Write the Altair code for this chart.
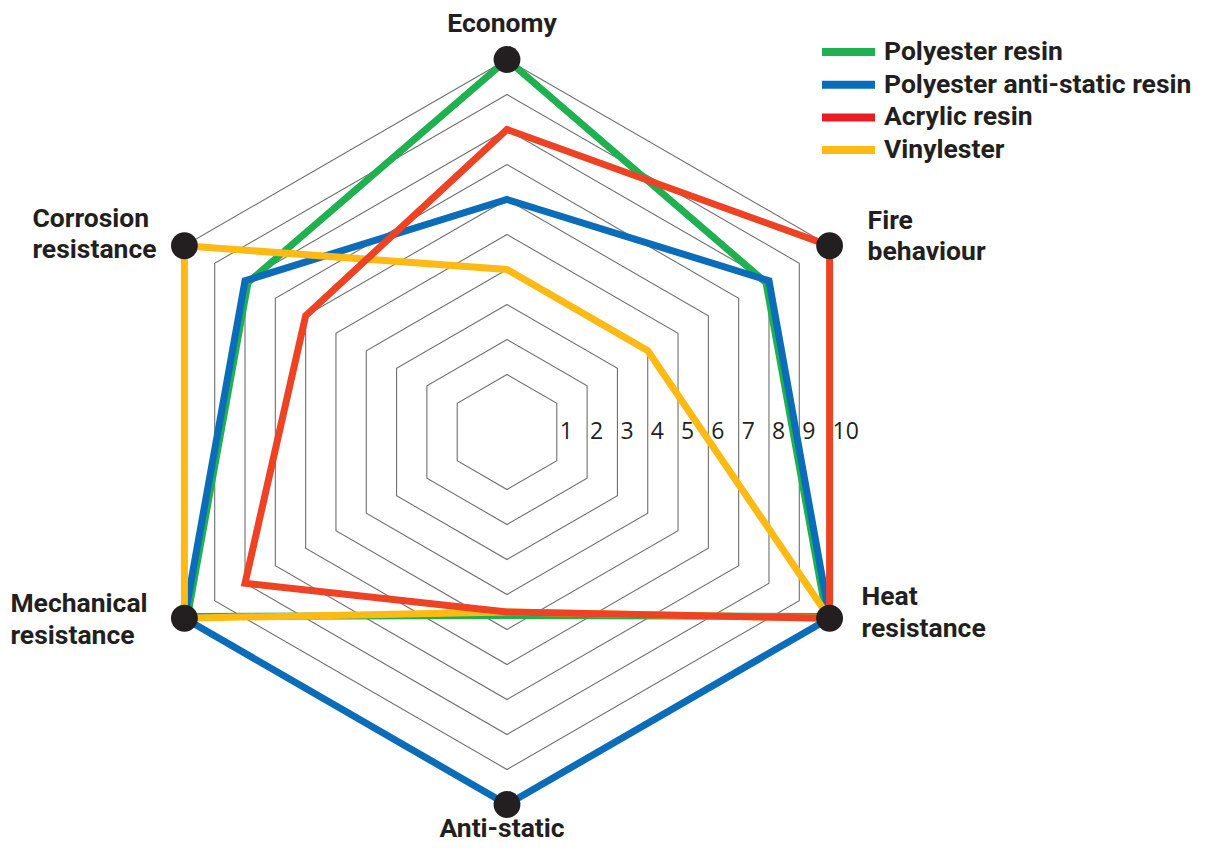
import math
import altair as alt
import pandas as pd

# ---------------- data ----------------
axis_names = ["Economy", "Fire behaviour", "Heat resistance", "Anti-static",
              "Mechanical resistance", "Corrosion resistance"]
axis_labels = ["Economy", "Fire\nbehaviour", "Heat\nresistance", "Anti-static",
               "Mechanical\nresistance", "Corrosion\nresistance"]
series_names = ["Polyester resin", "Polyester anti-static resin", "Acrylic resin", "Vinylester"]
polyester_resin = [10, 7.9, 9.9, 4.6, 9.9, 7.9]
polyester_antistatic = [6, 8, 10, 10, 10, 8]
acrylic_resin = [8, 10, 10, 4.5, 8, 6]
vinylester = [4, 4, 10, 4.5, 10, 10]
grid_levels = [1, 2, 3, 4, 5, 6, 7, 8, 9, 10]
tick_labels = ["1", "2", "3", "4", "5", "6", "7", "8", "9", "10"]
max_value = 10

series_values = [polyester_resin, polyester_antistatic, acrylic_resin, vinylester]

# ---------------- layout / style ----------------
W, H = 1196, 834
CX, CY = 499, 424          # centre of the radar in view pixels
PX = 35.0                  # pixels per value unit
OFF = 0.643                # radial offset of value 0
XDOM = [-CX / PX, (W - CX) / PX]
YDOM = [-(H - CY) / PX, CY / PX]

line_colors = ["#1fb04f", "#0b6db9", "#ee4224", "#fdba14"]
legend_colors = ["#1fb04f", "#0b6db9", "#ec1c24", "#fdba14"]
z_order = [0, 1, 3, 2]
TXT = "#231f20"
FONT = "Roboto"
BOLD_SIZE = 26.5
LINE_H = 31.5

xs = alt.Scale(domain=XDOM, nice=False, zero=False)
ys = alt.Scale(domain=YDOM, nice=False, zero=False)
X = lambda f: alt.X(f, type="quantitative", scale=xs, axis=None)
Y = lambda f: alt.Y(f, type="quantitative", scale=ys, axis=None)

N = len(axis_names)
calc_x = f"(datum.value + {OFF}) * sin(datum.k * PI / 3)"
calc_y = f"(datum.value + {OFF}) * cos(datum.k * PI / 3)"

# grid hexagons
grid_rows = []
for lv in grid_levels:
    for j in range(N + 1):
        grid_rows.append({"level": lv, "k": j % N, "o": j, "value": lv})
grid = alt.Chart(pd.DataFrame(grid_rows)).transform_calculate(
    x=calc_x, y=calc_y
).mark_line(strokeWidth=1.1, color="#6f6f6f").encode(
    x=X("x"), y=Y("y"), detail="level:N", order="o:Q"
)

# tick labels
tick_df = pd.DataFrame({"value": grid_levels, "label": tick_labels})
ticks = alt.Chart(tick_df).transform_calculate(
    x=f"(datum.value + {OFF}) * cos(PI / 6)", y="0"
).mark_text(align="left", baseline="middle", dx=3, font="Open Sans",
            fontSize=23, color=TXT).encode(x=X("x"), y=Y("y"), text="label:N")

# series lines (start path at Heat resistance, hidden under its dot)
start = 2
line_layers = []
for si in z_order:
    rows = []
    for j in range(N + 1):
        k = (start + j) % N
        rows.append({"series": series_names[si], "axis": axis_names[k], "k": k,
                     "o": j, "value": series_values[si][k]})
    line_layers.append(
        alt.Chart(pd.DataFrame(rows)).transform_calculate(x=calc_x, y=calc_y)
        .mark_line(strokeWidth=7, strokeJoin="miter", strokeMiterLimit=20,
                   strokeCap="butt", color=line_colors[si])
        .encode(x=X("x"), y=Y("y"), order="o:Q")
    )

# dots at the axis tips
dot_df = pd.DataFrame({"axis": axis_names, "k": list(range(N)), "value": [max_value] * N})
dots = alt.Chart(dot_df).transform_calculate(x=calc_x, y=calc_y).mark_circle(
    size=720, color=TXT, opacity=1).encode(x=X("x"), y=Y("y"))

# axis titles (first-line anchor = tip + pixel offset)
label_offsets = {
    "Economy": (-5, -35, "center"),
    "Fire behaviour": (38, -25, "left"),
    "Heat resistance": (32, -21, "left"),
    "Anti-static": (-5, 24, "center"),
    "Mechanical resistance": (-174, -14, "left"),
    "Corrosion resistance": (-152, -27, "left"),
}
lab_rows = []
for k, (nm, lb) in enumerate(zip(axis_names, axis_labels)):
    ox, oy, al = label_offsets[nm]
    r = max_value + OFF
    lab_rows.append({"label": lb, "align": al,
                     "x": r * math.sin(k * math.pi / 3) + ox / PX,
                     "y": r * math.cos(k * math.pi / 3) - oy / PX})
lab_df = pd.DataFrame(lab_rows)
label_layers = []
for al in ["center", "left"]:
    label_layers.append(
        alt.Chart(lab_df[lab_df["align"] == al]).mark_text(
            align=al, baseline="middle", font=FONT, fontWeight="bold", fontSize=BOLD_SIZE,
            lineHeight=LINE_H, lineBreak="\n", color=TXT
        ).encode(x=X("x"), y=Y("y"), text="label:N")
    )

# legend
LX0, LX1, LTX = 814, 867, 876
LY0, LDY = 44, 32.7
leg_layers = []
for i, nm in enumerate(series_names):
    yy = (CY - (LY0 + i * LDY)) / PX
    d = pd.DataFrame({"series": [nm], "x": [(LX0 - CX) / PX], "x2": [(LX1 - CX) / PX],
                      "tx": [(LTX - CX) / PX], "y": [yy]})
    leg_layers.append(alt.Chart(d).mark_rule(strokeWidth=8, color=legend_colors[i]).encode(
        x=X("x"), x2="x2:Q", y=Y("y")))
    leg_layers.append(alt.Chart(d).mark_text(
        align="left", baseline="middle", font=FONT, fontWeight="bold", fontSize=BOLD_SIZE,
        color=TXT).encode(x=X("tx"), y=Y("y"), text="series:N"))

chart = alt.layer(grid, ticks, *line_layers, dots, *label_layers, *leg_layers).properties(
    width=W, height=H, padding=0, autosize="none"
).configure_view(stroke=None)

chart.save("out.html", embed_options={"renderer": "svg", "actions": False})
